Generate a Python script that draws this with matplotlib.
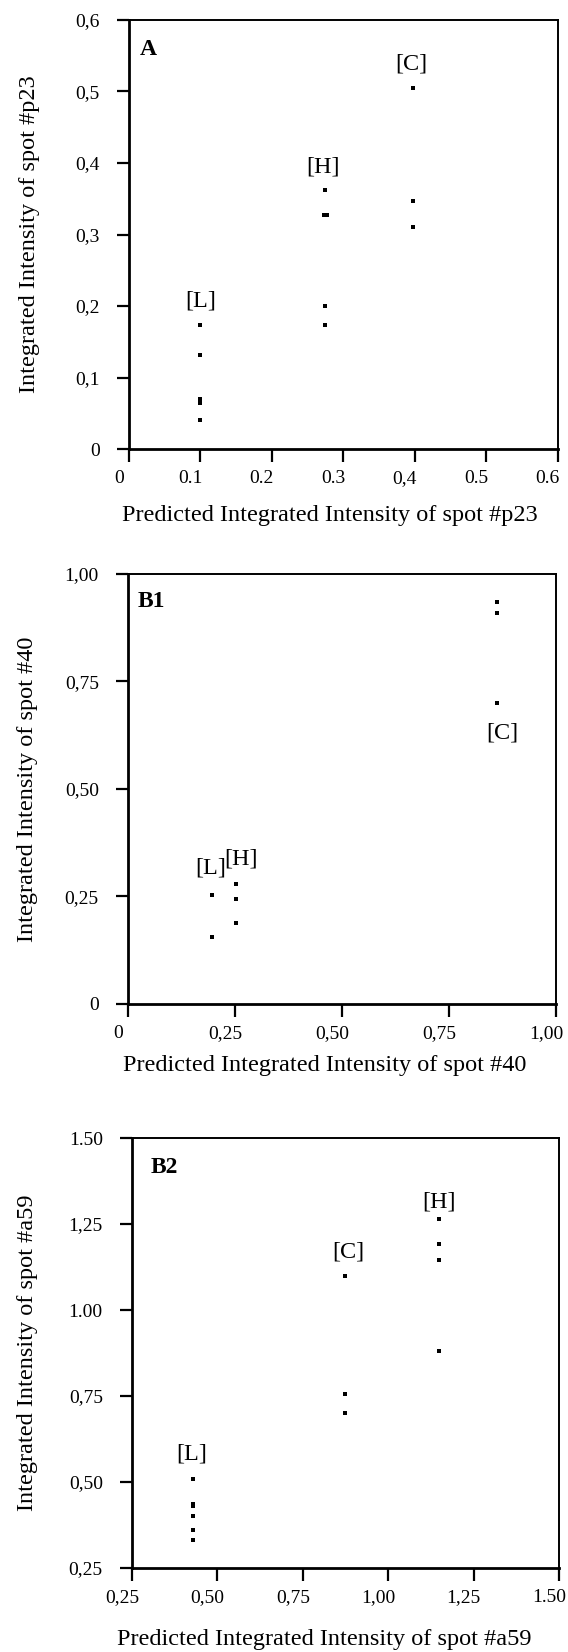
import matplotlib.pyplot as plt
from matplotlib.transforms import ScaledTranslation

plt.rcParams['font.family'] = ['Liberation Serif', 'DejaVu Serif']

# ---- panel A : spot #p23 ----
a_ticks = [0, 0.1, 0.2, 0.3, 0.4, 0.5, 0.6]
a_xticklabels = ['0', '0.1', '0.2', '0.3', '0,4', '0.5', '0.6']
a_yticklabels = ['0', '0,1', '0,2', '0,3', '0,4', '0,5', '0,6']
a_L_x = [0.1, 0.1, 0.1, 0.1, 0.1]
a_L_y = [0.173, 0.131, 0.070, 0.064, 0.041]
a_H_x = [0.275, 0.273, 0.277, 0.275, 0.275]
a_H_y = [0.362, 0.327, 0.327, 0.200, 0.173]
a_C_x = [0.397, 0.397, 0.397]
a_C_y = [0.505, 0.347, 0.311]
a_tags = ['[L]', '[H]', '[C]']
a_tag_x = [0.100, 0.272, 0.395]
a_tag_y = [0.207, 0.394, 0.538]

# ---- panel B1 : spot #40 ----
b1_ticks = [0, 0.25, 0.50, 0.75, 1.00]
b1_xticklabels = ['0', '0,25', '0,50', '0,75', '1,00']
b1_yticklabels = ['0', '0,25', '0,50', '0,75', '1,00']
b1_L_x = [0.196, 0.196]
b1_L_y = [0.254, 0.156]
b1_H_x = [0.253, 0.253, 0.253]
b1_H_y = [0.279, 0.244, 0.189]
b1_C_x = [0.862, 0.862, 0.862]
b1_C_y = [0.935, 0.908, 0.699]
b1_tags = ['[L]', '[H]', '[C]']
b1_tag_x = [0.193, 0.265, 0.875]
b1_tag_y = [0.317, 0.338, 0.631]

# ---- panel B2 : spot #a59 ----
b2_ticks = [0.25, 0.50, 0.75, 1.00, 1.25, 1.50]
b2_xticklabels = ['0,25', '0,50', '0,75', '1,00', '1,25', '1.50']
b2_yticklabels = ['0,25', '0,50', '0,75', '1.00', '1,25', '1.50']
b2_L_x = [0.428, 0.428, 0.428, 0.428, 0.428, 0.428]
b2_L_y = [0.510, 0.437, 0.430, 0.401, 0.361, 0.332]
b2_C_x = [0.874, 0.874, 0.874]
b2_C_y = [1.098, 0.756, 0.702]
b2_H_x = [1.148, 1.148, 1.148, 1.148]
b2_H_y = [1.264, 1.193, 1.146, 0.882]
b2_tags = ['[L]', '[C]', '[H]']
b2_tag_x = [0.426, 0.883, 1.149]
b2_tag_y = [0.583, 1.169, 1.313]


def draw_panel(ax, ticks, xlabels, ylabels, groups, tags, tag_x, tag_y,
               letter, letter_pos, spot, xlab_pos, ylab_x):
    for gx, gy in groups:
        ax.plot(gx, gy, 's', color='black', markersize=3.4, markeredgewidth=0)
    for t, tx, ty in zip(tags, tag_x, tag_y):
        ax.text(tx, ty, t, ha='center', va='center', fontsize=17.5)
    ax.text(letter_pos[0], letter_pos[1], letter, transform=ax.transAxes,
            ha='center', va='center', fontsize=17, fontweight='bold')
    ax.set_xlim(ticks[0], ticks[-1])
    ax.set_ylim(ticks[0], ticks[-1])
    ax.set_xticks(ticks, xlabels)
    ax.set_yticks(ticks, ylabels)
    ax.tick_params(axis='both', direction='out', length=9, width=1.6,
                   labelsize=14)
    ax.tick_params(axis='x', pad=6)
    ax.tick_params(axis='y', pad=12)
    # scanned labels sit a little left of their ticks
    shift = ScaledTranslation(-0.10, 0, ax.figure.dpi_scale_trans)
    for lab in ax.get_xticklabels():
        lab.set_transform(lab.get_transform() + shift)
    for side in ['left', 'bottom']:
        ax.spines[side].set_linewidth(2.0)
    for side in ['top', 'right']:
        ax.spines[side].set_linewidth(1.4)
    ax.set_xlabel('Predicted Integrated Intensity of spot ' + spot, fontsize=17.5)
    ax.set_ylabel('Integrated Intensity of spot ' + spot, fontsize=17.5)
    ax.xaxis.set_label_coords(xlab_pos[0], xlab_pos[1])
    ax.xaxis.label.set_va('center')
    ax.yaxis.set_label_coords(ylab_x, 0.5)
    ax.yaxis.label.set_va('center')


fig = plt.figure(figsize=(5.68, 16.52), dpi=100)

ax_a = fig.add_axes([0.227, 0.7282, 0.755, 0.2597])
draw_panel(ax_a, a_ticks, a_xticklabels, a_yticklabels,
           [(a_L_x, a_L_y), (a_H_x, a_H_y), (a_C_x, a_C_y)],
           a_tags, a_tag_x, a_tag_y, 'A', (0.046, 0.932), '#p23',
           (0.469, -0.154), -0.232)

ax_b1 = fig.add_axes([0.2254, 0.3923, 0.7535, 0.2603])
draw_panel(ax_b1, b1_ticks, b1_xticklabels, b1_yticklabels,
           [(b1_L_x, b1_L_y), (b1_H_x, b1_H_y), (b1_C_x, b1_C_y)],
           b1_tags, b1_tag_x, b1_tag_y, 'B1', (0.054, 0.936), '#40',
           (0.46, -0.144), -0.235)

ax_b2 = fig.add_axes([0.2324, 0.0508, 0.7518, 0.2603])
draw_panel(ax_b2, b2_ticks, b2_xticklabels, b2_yticklabels,
           [(b2_L_x, b2_L_y), (b2_C_x, b2_C_y), (b2_H_x, b2_H_y)],
           b2_tags, b2_tag_x, b2_tag_y, 'B2', (0.0755, 0.932), '#a59',
           (0.45, -0.167), -0.245)

fig.savefig('out.png', dpi=100)
